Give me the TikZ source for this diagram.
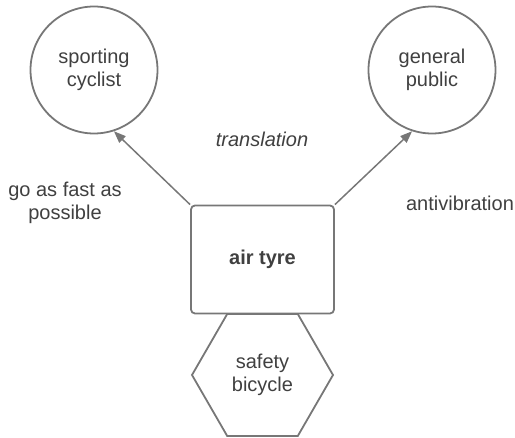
\documentclass[tikz,border=0pt]{standalone}
\usepackage{fontspec}
\setmainfont{Liberation Sans}
\usetikzlibrary{arrows.meta,shapes.geometric}
\definecolor{edgegray}{HTML}{777777}
\definecolor{txtgray}{HTML}{404040}
\tikzset{
  base/.style={font=\fontsize{20}{23}\selectfont, text=txtgray, align=center},
  shapeline/.style={draw=edgegray, line width=1.8pt},
  person/.style={base, shapeline, circle, minimum size=127pt, inner sep=0pt},
  concept/.style={base, shapeline, rectangle, rounded corners=4pt, minimum width=143pt, minimum height=108pt, inner sep=0pt},
  origin/.style={base, shapeline, regular polygon, regular polygon sides=6, minimum size=141pt, inner sep=0pt},
  lbl/.style={base, inner sep=0pt},
  arr/.style={draw=edgegray, line width=1.5pt, -{Triangle[length=12pt,width=9pt]}}
}
\begin{document}
\begin{tikzpicture}[x=1pt,y=-1pt]
\useasboundingbox (0,0) rectangle (515,438);
\node[person] (sc) at (94,70) {sporting\\cyclist};
\node[person] (gp) at (432,70) {general\\public};
\node[concept] (at) at (262.5,259.5) {\textbf{air tyre}};
\node[origin] (sb) at (262.5,375) {safety\\bicycle};
\node[lbl] (tr) at (262,139) {\itshape translation};
\node[lbl] (gf) at (65,203) {go as fast as\\possible};
\node[lbl] (av) at (460,203) {antivibration};
\draw[arr] (at.north west) -- (sc.-72);
\draw[arr] (at.north east) -- (gp.-108);
\end{tikzpicture}
\end{document}
